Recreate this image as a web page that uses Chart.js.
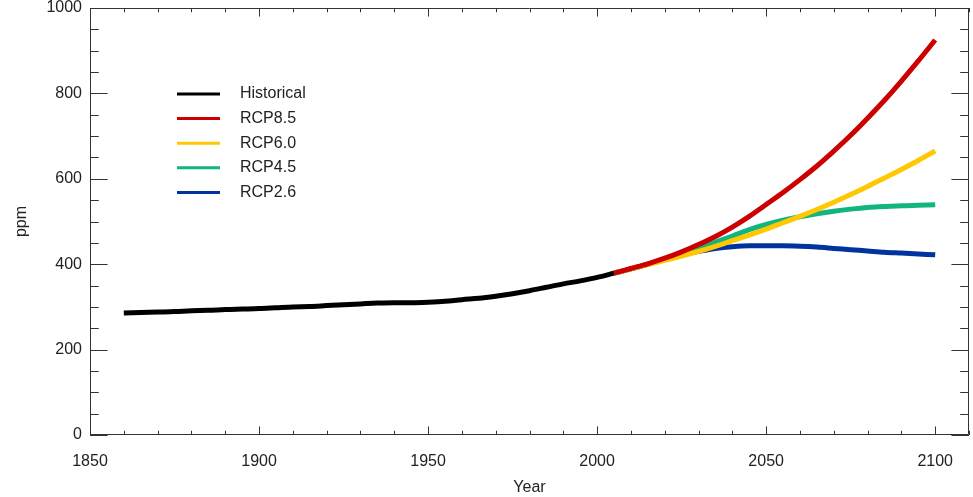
<!DOCTYPE html>
<html>
<head>
<meta charset="utf-8">
<script src="https://cdn.jsdelivr.net/npm/chart.js@4.4.1/dist/chart.umd.min.js"></script>
<style>
  html, body { margin: 0; padding: 0; background: #fff; }
  #wrap { width: 973px; height: 497px; position: relative; }
</style>
</head>
<body>
<div id="wrap"><canvas id="co2Chart"></canvas></div>
<script>
// Data
const histYears = [1860, 1865, 1870, 1875, 1880, 1885, 1890, 1895, 1900, 1905, 1910, 1915, 1920, 1925, 1930,
                   1935, 1940, 1945, 1950, 1955, 1960, 1965, 1970, 1975, 1980, 1985, 1990, 1995, 2000, 2005];
const histPpm   = [286, 287, 288, 289, 291, 292, 294, 295, 296, 298, 300, 301, 303, 305, 307,
                   309, 310, 310, 311, 313, 317, 320, 325, 331, 338, 346, 354, 361, 369, 379];

const rcpYears = [2005, 2010, 2015, 2020, 2025, 2030, 2035, 2040, 2045, 2050,
                  2055, 2060, 2065, 2070, 2075, 2080, 2085, 2090, 2095, 2100];
const rcp85 = [379, 390, 401, 414, 429, 446, 465, 487, 512, 540, 568, 598, 630, 665, 702, 742, 784, 829, 876, 925];
const rcp60 = [379, 389, 399, 409, 419, 430, 442, 455, 468, 482, 497, 512, 528, 545, 563, 582, 602, 622, 643, 665];
const rcp45 = [379, 389, 400, 412, 424, 437, 452, 466, 481, 493, 503, 511, 518, 524, 529, 533, 535, 537, 538, 539];
const rcp26 = [379, 389, 400, 411, 421, 430, 437, 441, 443, 443, 443, 442, 440, 437, 434, 431, 428, 426, 424, 422];

const xTickLabels = [1850, 1900, 1950, 2000, 2050, 2100];
const yTickLabels = [0, 200, 400, 600, 800, 1000];

const seriesNames  = ['Historical', 'RCP8.5', 'RCP6.0', 'RCP4.5', 'RCP2.6'];
const seriesColors = ['#000000', '#cc0000', '#ffc800', '#13b57f', '#0033a0'];

const AXIS_COLOR = '#333333';
const TEXT_COLOR = '#222222';
const FONT = 'Liberation Sans, Arial, sans-serif';

function toPoints(xs, ys) {
    return xs.map((x, i) => ({ x: x, y: ys[i] }));
}

const seriesData = [
    toPoints(histYears, histPpm),
    toPoints(rcpYears, rcp85),
    toPoints(rcpYears, rcp60),
    toPoints(rcpYears, rcp45),
    toPoints(rcpYears, rcp26)
];
// lower order is drawn on top: blue first, then green, yellow, red, black
const drawOrder = [0, 1, 2, 3, 4];

// Box and inward ticks on all four sides (IDL style)
const frameTicks = {
    id: 'frameTicks',
    afterDatasetsDraw(chart) {
        const ctx = chart.ctx;
        const a = chart.chartArea;
        const xs = chart.scales.x;
        const ys = chart.scales.y;
        ctx.save();
        ctx.strokeStyle = AXIS_COLOR;
        ctx.lineWidth = 1;
        ctx.beginPath();
        ctx.rect(a.left + 0.5, a.top + 0.5, a.right - a.left - 1, a.bottom - a.top - 1);

        const xMajor = (a.bottom - a.top) * 0.02;
        const yMajor = (a.right - a.left) * 0.02;
        for (let v = 1850; v <= 2110; v += 10) {
            const px = Math.round(xs.getPixelForValue(v)) + 0.5;
            const len = v % 50 === 0 ? xMajor : xMajor / 2;
            ctx.moveTo(px, a.bottom);
            ctx.lineTo(px, a.bottom - len);
            ctx.moveTo(px, a.top);
            ctx.lineTo(px, a.top + len);
        }
        for (let v = 0; v <= 1000; v += 50) {
            const py = Math.round(ys.getPixelForValue(v)) + 0.5;
            const len = v % 200 === 0 ? yMajor : yMajor / 2;
            ctx.moveTo(a.left, py);
            ctx.lineTo(a.left + len, py);
            ctx.moveTo(a.right, py);
            ctx.lineTo(a.right - len, py);
        }
        ctx.stroke();

        // legend inside the plot
        ctx.font = '16px ' + FONT;
        ctx.textBaseline = 'middle';
        ctx.fillStyle = TEXT_COLOR;
        seriesNames.forEach((name, i) => {
            const y = 94 + i * 24.6;
            ctx.strokeStyle = seriesColors[i];
            ctx.lineWidth = 3;
            ctx.beginPath();
            ctx.moveTo(177, y);
            ctx.lineTo(220, y);
            ctx.stroke();
            ctx.fillText(name, 240, y);
        });
        ctx.restore();
    }
};

new Chart(document.getElementById('co2Chart'), {
    type: 'line',
    data: {
        datasets: seriesNames.map((name, i) => ({
            label: name,
            data: seriesData[i],
            borderColor: seriesColors[i],
            backgroundColor: seriesColors[i],
            borderWidth: 5,
            pointRadius: 0,
            fill: false,
            cubicInterpolationMode: 'monotone',
            order: drawOrder[i]
        }))
    },
    options: {
        responsive: true,
        maintainAspectRatio: false,
        animation: false,
        layout: { padding: { top: 8, right: 4, left: 0, bottom: 0 } },
        plugins: {
            legend: { display: false },
            tooltip: { enabled: false }
        },
        scales: {
            x: {
                type: 'linear',
                min: 1850,
                max: 2110,
                afterBuildTicks: (scale) => {
                    scale.ticks = xTickLabels.map(v => ({ value: v }));
                },
                afterFit: (scale) => {
                    scale.height = 62;
                    scale.paddingLeft = 0;
                    scale.paddingRight = 0;
                },
                grid: { display: false, drawTicks: false },
                border: { display: false },
                ticks: {
                    color: TEXT_COLOR,
                    font: { family: FONT, size: 16 },
                    padding: 17,
                    maxRotation: 0,
                    autoSkip: false,
                    callback: (v) => String(v)
                },
                title: {
                    display: true,
                    text: 'Year',
                    color: TEXT_COLOR,
                    font: { family: FONT, size: 16 },
                    padding: { top: 0, bottom: 0 }
                }
            },
            y: {
                min: 0,
                max: 1000,
                afterBuildTicks: (scale) => {
                    scale.ticks = yTickLabels.map(v => ({ value: v }));
                },
                afterFit: (scale) => {
                    scale.width = 90;
                    scale.paddingTop = 0;
                    scale.paddingBottom = 0;
                },
                grid: { display: false, drawTicks: false },
                border: { display: false },
                ticks: {
                    color: TEXT_COLOR,
                    font: { family: FONT, size: 16 },
                    padding: 8,
                    callback: (v) => String(v)
                },
                title: {
                    display: true,
                    text: 'ppm',
                    color: TEXT_COLOR,
                    font: { family: FONT, size: 16 },
                    padding: { top: 12, bottom: 0 }
                }
            }
        }
    },
    plugins: [frameTicks]
});
</script>
</body>
</html>
